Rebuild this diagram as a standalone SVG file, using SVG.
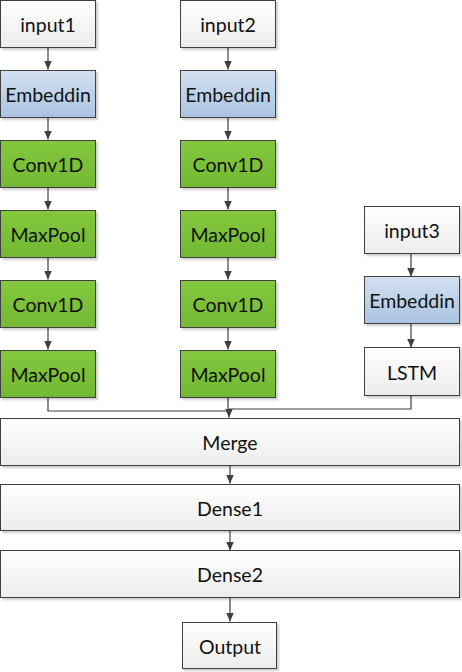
<svg xmlns="http://www.w3.org/2000/svg" width="462" height="672" viewBox="0 0 462 672">
<defs>
<linearGradient id="gw" x1="0" y1="0" x2="0" y2="1"><stop offset="0" stop-color="#ffffff"/><stop offset="1" stop-color="#ececec"/></linearGradient>
<linearGradient id="gb" x1="0" y1="0" x2="0" y2="1"><stop offset="0" stop-color="#d3e1f1"/><stop offset="1" stop-color="#a9c3e0"/></linearGradient>
<linearGradient id="gg" x1="0" y1="0" x2="0" y2="1"><stop offset="0" stop-color="#84c83e"/><stop offset="1" stop-color="#72b833"/></linearGradient>
<filter id="sh" x="-5%" y="-5%" width="115%" height="120%"><feDropShadow dx="2" dy="2" stdDeviation="1" flood-color="#000" flood-opacity="0.2"/></filter>
<marker id="ar" markerWidth="10" markerHeight="10" refX="9" refY="5" orient="auto" markerUnits="userSpaceOnUse"><path d="M0,1 L9,5 L0,9 Z" fill="#404040"/></marker>
</defs>
<style>
.n rect{stroke:#3f3f3f;stroke-width:1;filter:url(#sh)}
.w rect{fill:url(#gw)}
.b rect{fill:url(#gb)}
.g rect{fill:url(#gg)}
text{font-family:Lato,"Open Sans","Liberation Sans",sans-serif;font-size:19.5px;fill:#111;text-anchor:middle;dominant-baseline:central}
.c path{fill:none;stroke:#404040;stroke-width:1.2}
</style>
<rect width="462" height="672" fill="#fff"/>
<g class="c">
<path d="M48,47.5 V69.5" marker-end="url(#ar)"/>
<path d="M48,117.5 V139.5" marker-end="url(#ar)"/>
<path d="M48,187.5 V209.5" marker-end="url(#ar)"/>
<path d="M48,257.5 V279.5" marker-end="url(#ar)"/>
<path d="M48,327.5 V349.5" marker-end="url(#ar)"/>
<path d="M228,47.5 V69.5" marker-end="url(#ar)"/>
<path d="M228,117.5 V139.5" marker-end="url(#ar)"/>
<path d="M228,187.5 V209.5" marker-end="url(#ar)"/>
<path d="M228,257.5 V279.5" marker-end="url(#ar)"/>
<path d="M228,327.5 V349.5" marker-end="url(#ar)"/>
<path d="M411,253.5 V276.5" marker-end="url(#ar)"/>
<path d="M411,323.5 V347.5" marker-end="url(#ar)"/>
<path d="M48,397.5 V411 H229"/>
<path d="M228,397.5 V411"/>
<path d="M411,395.5 V409 H229"/>
<path d="M229,409 V417.5" marker-end="url(#ar)"/>
<path d="M230,466 V483.5" marker-end="url(#ar)"/>
<path d="M230,531 V550.5" marker-end="url(#ar)"/>
<path d="M230,597.5 V621.5" marker-end="url(#ar)"/>
</g>
<g id="input1" class="n w"><rect x="0.5" y="0.5" width="95" height="47"/><text x="48" y="24">input1</text></g>
<g id="emb1" class="n b"><rect x="0.5" y="70.5" width="95" height="47"/><text x="48" y="94">Embeddin</text></g>
<g id="conv1a" class="n g"><rect x="0.5" y="140.5" width="95" height="47"/><text x="48" y="164">Conv1D</text></g>
<g id="pool1a" class="n g"><rect x="0.5" y="210.5" width="95" height="47"/><text x="48" y="234">MaxPool</text></g>
<g id="conv1b" class="n g"><rect x="0.5" y="280.5" width="95" height="47"/><text x="48" y="304">Conv1D</text></g>
<g id="pool1b" class="n g"><rect x="0.5" y="350.5" width="95" height="47"/><text x="48" y="374">MaxPool</text></g>
<g id="input2" class="n w"><rect x="180.5" y="0.5" width="95" height="47"/><text x="228" y="24">input2</text></g>
<g id="emb2" class="n b"><rect x="180.5" y="70.5" width="95" height="47"/><text x="228" y="94">Embeddin</text></g>
<g id="conv2a" class="n g"><rect x="180.5" y="140.5" width="95" height="47"/><text x="228" y="164">Conv1D</text></g>
<g id="pool2a" class="n g"><rect x="180.5" y="210.5" width="95" height="47"/><text x="228" y="234">MaxPool</text></g>
<g id="conv2b" class="n g"><rect x="180.5" y="280.5" width="95" height="47"/><text x="228" y="304">Conv1D</text></g>
<g id="pool2b" class="n g"><rect x="180.5" y="350.5" width="95" height="47"/><text x="228" y="374">MaxPool</text></g>
<g id="input3" class="n w"><rect x="364.5" y="206.5" width="95" height="47"/><text x="412" y="230">input3</text></g>
<g id="emb3" class="n b"><rect x="364.5" y="276.5" width="95" height="47"/><text x="412" y="300">Embeddin</text></g>
<g id="lstm" class="n w"><rect x="364.5" y="347.5" width="95" height="48"/><text x="412" y="372">LSTM</text></g>
<g id="merge" class="n w"><rect x="0.5" y="418.5" width="459" height="47"/><text x="230" y="442">Merge</text></g>
<g id="dense1" class="n w"><rect x="0.5" y="484.5" width="459" height="46"/><text x="230" y="508">Dense1</text></g>
<g id="dense2" class="n w"><rect x="0.5" y="550.5" width="459" height="47"/><text x="230" y="574">Dense2</text></g>
<g id="output" class="n w"><rect x="182.5" y="622.5" width="94" height="46"/><text x="230" y="646">Output</text></g>
</svg>
